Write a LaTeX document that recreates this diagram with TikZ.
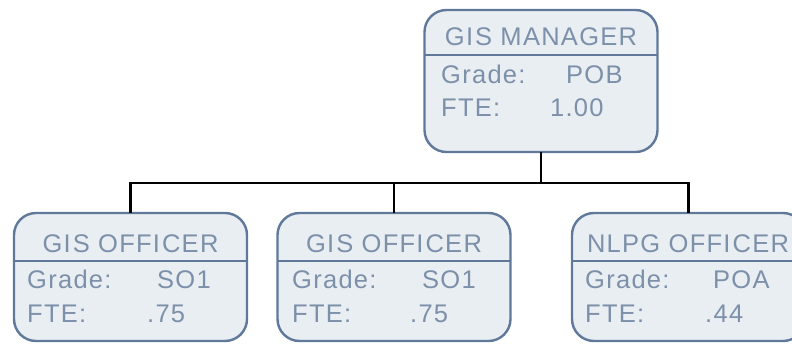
\documentclass[tikz,border=0pt]{standalone}
\usepackage{fontspec}
\setmainfont{Liberation Sans}[LetterSpace=5]
\definecolor{boxfill}{HTML}{E9EEF2}
\definecolor{boxline}{HTML}{60799A}
\definecolor{boxtext}{HTML}{7D90AA}
\begin{document}
\begin{tikzpicture}[x=1pt,y=-1pt,
  orgbox/.style={draw=boxline,fill=boxfill,line width=2.4pt,rounded corners=22pt,
    minimum width=233pt,inner sep=0pt,outer sep=0pt},
  divline/.style={draw=boxline,line width=2.4pt},
  txt/.style={text=boxtext,font=\fontsize{25.5}{30}\selectfont,inner sep=0pt,anchor=base west},
  ttl/.style={text=boxtext,font=\fontsize{25.5}{30}\selectfont,inner sep=0pt,anchor=base},
  conn/.style={draw=black,line width=2.5pt}]
\clip (0,0) rectangle (792,343);
\fill[white] (0,0) rectangle (792,343);
% manager
\node[orgbox,minimum height=142pt] (mgr) at (541,81) {};
\draw[divline] (mgr.west |- 0,55) -- (mgr.east |- 0,55);
\node[ttl] (mgrt) at (541,45) {GI\kern2pt S MANAGER};
\node[txt] (mgrg) at (441,83) {Grade:};
\node[txt] (mgrgv) at (566,83) {POB};
\node[txt] (mgrf) at (441,116) {FTE:};
\node[txt] (mgrfv) at (550,116) {1.00};
% officers
\node[orgbox,minimum height=128pt] (o1) at (130.5,277) {};
\node[orgbox,minimum height=128pt] (o2) at (394,277) {};
\node[orgbox,minimum height=128pt] (o3) at (688.5,277) {};
\foreach \b in {o1,o2,o3}{\draw[divline] (\b.west |- 0,261) -- (\b.east |- 0,261);}
\node[ttl] (o1t) at (130.5,252) {GI\kern2pt S OFFI\kern2pt CER};
\node[txt] (o1g) at (27,288) {Grade:};
\node[txt] (o1gv) at (157,288) {SO1};
\node[txt] (o1f) at (27,322) {FTE:};
\node[txt] (o1fv) at (147,322) {.75};
\node[ttl] (o2t) at (394,252) {GI\kern2pt S OFFI\kern2pt CER};
\node[txt] (o2g) at (292,288) {Grade:};
\node[txt] (o2gv) at (422,288) {SO1};
\node[txt] (o2f) at (292,322) {FTE:};
\node[txt] (o2fv) at (410,322) {.75};
\node[ttl] (o3t) at (688,252) {NLPG OFFI\kern2pt CER};
\node[txt] (o3g) at (585,288) {Grade:};
\node[txt] (o3gv) at (713,288) {POA};
\node[txt] (o3f) at (585,322) {FTE:};
\node[txt] (o3fv) at (705,322) {.44};
% connectors
\coordinate (bus) at (541,183);
\draw[conn] (mgr.south) -- (bus);
\draw[conn] (o1.north) |- (bus);
\draw[conn] (o3.north) |- (bus);
\draw[conn] (o2.north) -- (o2.north |- bus);
\end{tikzpicture}
\end{document}
